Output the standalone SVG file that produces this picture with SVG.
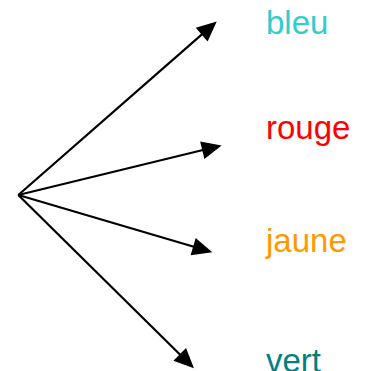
<svg xmlns="http://www.w3.org/2000/svg" width="369" height="371" viewBox="0 0 369 371">
  <style>
    .edge { stroke: #000; stroke-width: 2.2; fill: none; marker-end: url(#head); }
    .label { font-family: "Liberation Sans", Arial, sans-serif; font-size: 33px; }
  </style>
  <defs>
    <!-- filled triangular arrowhead, tip 14px beyond the line end -->
    <marker id="head" markerUnits="userSpaceOnUse" markerWidth="20" markerHeight="18"
            refX="6" refY="9" orient="auto" overflow="visible">
      <path d="M0,0 L20,9 L0,18 z" fill="#000"/>
    </marker>
  </defs>
  <rect width="369" height="371" fill="#fff"/>

  <g id="connectors">
    <line class="edge" x1="18.3" y1="195" x2="206.2" y2="30.7"/>
    <line class="edge" x1="18.3" y1="195" x2="208.1" y2="148.8"/>
    <line class="edge" x1="18.3" y1="195" x2="198.9" y2="248.3"/>
    <line class="edge" x1="18.3" y1="195" x2="184.0" y2="358.5"/>
  </g>

  <g id="bleu"><text class="label" x="266" y="34" fill="#33cccc">bleu</text></g>
  <g id="rouge"><text class="label" x="266" y="138.5" fill="#ff0000">rouge</text></g>
  <g id="jaune"><text class="label" x="266" y="252" fill="#ff9900">jaune</text></g>
  <g id="vert"><text class="label" x="266" y="372" fill="#008080">vert</text></g>
</svg>
